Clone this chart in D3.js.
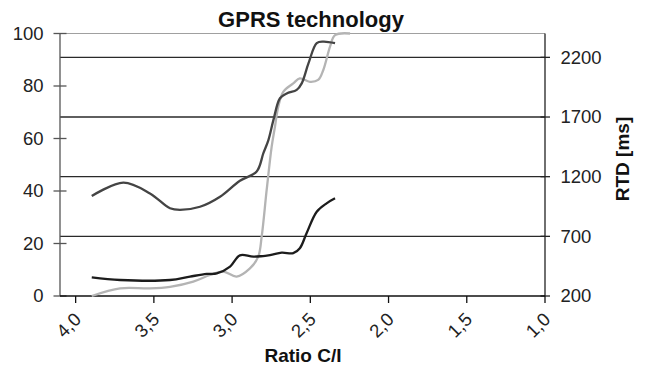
<!DOCTYPE html>
<html><head><meta charset="utf-8">
<script src="https://cdn.jsdelivr.net/npm/d3@7"></script>
<style>body{margin:0;background:#fff}svg{display:block;font-family:"Liberation Sans",Arial,sans-serif}</style>
</head><body><svg id="c" width="645" height="369"></svg>
<script>
// ---- data ----
const title = "GPRS technology";
const xTicks = [4.0, 3.5, 3.0, 2.5, 2.0, 1.5, 1.0];
const leftTicks = [0, 20, 40, 60, 80, 100];
const rightTicks = [200, 700, 1200, 1700, 2200];
// RTD series (right axis, ms)
const rtdX = [3.897,3.695,3.525,3.397,3.333,3.205,3.077,2.95,2.843,2.8,2.768,2.736,2.694,2.651,2.587,2.555,2.512,2.459,2.417,2.342];
const rtdY = [1038,1150,1060,935,922,948,1032,1166,1243,1397,1507,1674,1857,1898,1927,1982,2149,2319,2332,2319];
// black series (left axis)
const blackX = [3.897,3.716,3.397,3.269,3.162,3.098,3.013,2.95,2.864,2.758,2.683,2.609,2.567,2.524,2.459,2.396,2.342];
const blackY = [7.1,6.1,6.1,7.4,8.4,8.6,11.2,15.5,15,15.6,16.5,16.3,18.2,23.9,32.1,35.3,37.2];
// gray series (left axis)
const grayX = [3.897,3.716,3.525,3.397,3.248,3.141,3.056,2.971,2.886,2.833,2.811,2.779,2.747,2.726,2.705,2.673,2.609,2.567,2.503,2.45,2.417,2.374,2.342,2.246];
const grayY = [0,2.9,2.9,3.5,5.5,8,9.3,7.4,10.5,15,22.6,40.4,56.9,64.5,72.1,77.8,81,82.9,81.6,82.3,86.1,95,99.4,100];

const svg = d3.select("#c");
const L = 60, R = 545, T = 33.5, B = 296;
const FS = 18.5;
const x = d3.scaleLinear().domain([4.1, 1.0]).range([L, R]);
const yL = d3.scaleLinear().domain([0, 100]).range([B, T]);
const yR = d3.scaleLinear().domain([200, 2400]).range([B, T]);

// top border
svg.append("line").attr("x1", L).attr("x2", R).attr("y1", T).attr("y2", T)
  .attr("stroke", "#a0a0a0").attr("stroke-width", 1.2);
// gridlines from right axis
svg.append("g").selectAll("line").data(rightTicks.filter(d => d > 200)).join("line")
  .attr("x1", L).attr("x2", R).attr("y1", d => yR(d)).attr("y2", d => yR(d))
  .attr("stroke", "#2a2a2a").attr("stroke-width", 1.3);

// left axis
const gl = svg.append("g");
gl.append("line").attr("x1", L).attr("x2", L).attr("y1", T).attr("y2", B).attr("stroke", "#555").attr("stroke-width", 1.3);
gl.selectAll("line.t").data(leftTicks).join("line").attr("class", "t")
  .attr("x1", L - 6.5).attr("x2", L + 6.5).attr("y1", d => yL(d)).attr("y2", d => yL(d))
  .attr("stroke", "#555").attr("stroke-width", 1.3);
gl.selectAll("text").data(leftTicks).join("text")
  .attr("x", 43.5).attr("y", d => yL(d)).attr("dy", "0.35em").attr("text-anchor", "end")
  .attr("font-size", FS).attr("fill", "#222").text(d => d);

// right axis
const gr = svg.append("g");
gr.append("line").attr("x1", R).attr("x2", R).attr("y1", T).attr("y2", B).attr("stroke", "#222").attr("stroke-width", 1.3);
gr.selectAll("line.t").data(rightTicks).join("line").attr("class", "t")
  .attr("x1", R - 4.5).attr("x2", R + 5).attr("y1", d => yR(d)).attr("y2", d => yR(d))
  .attr("stroke", "#222").attr("stroke-width", 1.3);
gr.selectAll("text").data(rightTicks).join("text")
  .attr("x", 560.5).attr("y", d => yR(d)).attr("dy", "0.35em").attr("text-anchor", "start")
  .attr("font-size", FS).attr("fill", "#222").text(d => d);
svg.append("text").attr("transform", "translate(629,159) rotate(-90)")
  .attr("text-anchor", "middle").attr("font-size", 19).attr("font-weight", "bold").attr("fill", "#111")
  .text("RTD [ms]");

// bottom axis
const gb = svg.append("g");
gb.append("line").attr("x1", L).attr("x2", R).attr("y1", B).attr("y2", B).attr("stroke", "#111").attr("stroke-width", 1.3);
gb.selectAll("line.t").data(xTicks).join("line").attr("class", "t")
  .attr("x1", d => x(d)).attr("x2", d => x(d)).attr("y1", B).attr("y2", B + 7)
  .attr("stroke", "#111").attr("stroke-width", 1.3);
gb.selectAll("text").data(xTicks).join("text")
  .attr("transform", d => `translate(${x(d) + 2},${B + 20}) rotate(-45)`)
  .attr("text-anchor", "end").attr("dy", "0.35em")
  .attr("font-size", FS).attr("fill", "#222").text(d => d.toFixed(1).replace(".", ","));
svg.append("text").attr("x", 303).attr("y", 362).attr("text-anchor", "middle")
  .attr("font-size", 19).attr("font-weight", "bold").attr("fill", "#111").text("Ratio C/I");

// title
svg.append("text").attr("x", 311).attr("y", 26.5).attr("text-anchor", "middle")
  .attr("font-size", 22).attr("font-weight", "bold").attr("fill", "#111").text(title);

// series
const mk = (xs, ys, yScale) => d3.line().curve(d3.curveCatmullRom.alpha(0.5))
  .x((d, i) => x(xs[i])).y(d => yScale(d))(ys);
svg.append("path").attr("d", mk(grayX, grayY, yL)).attr("fill", "none").attr("stroke", "#b4b4b4").attr("stroke-width", 2.3);
svg.append("path").attr("d", mk(blackX, blackY, yL)).attr("fill", "none").attr("stroke", "#1c1c1c").attr("stroke-width", 2.3);
svg.append("path").attr("d", mk(rtdX, rtdY, yR)).attr("fill", "none").attr("stroke", "#444").attr("stroke-width", 2.3);
</script></body></html>
